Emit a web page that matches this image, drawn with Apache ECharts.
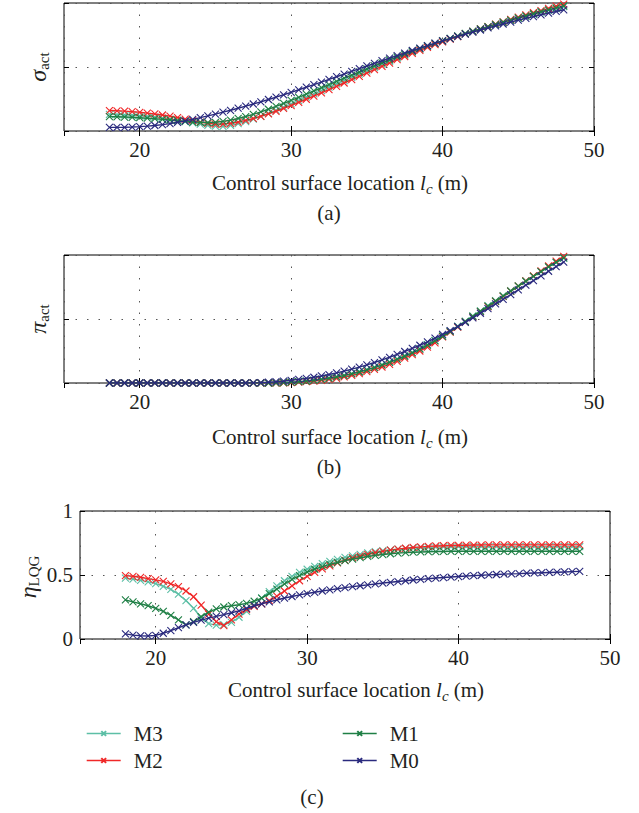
<!DOCTYPE html>
<html><head><meta charset="utf-8">
<script src="https://cdn.jsdelivr.net/npm/echarts@6/dist/echarts.min.js"></script>
<style>html,body{margin:0;padding:0;background:#fff}#c{width:639px;height:813px}</style>
</head><body><div id="c"></div>
<script>
// ---------- data ----------
const xValues = [18,18.5,19,19.5,20,20.5,21,21.5,22,22.5,23,23.5,24,24.5,25,25.5,26,26.5,27,27.5,28,28.5,29,29.5,30,30.5,31,31.5,32,32.5,33,33.5,34,34.5,35,35.5,36,36.5,37,37.5,38,38.5,39,39.5,40,40.5,41,41.5,42,42.5,43,43.5,44,44.5,45,45.5,46,46.5,47,47.5,48];
const seriesNames = ['M3','M2','M1','M0'];
const xTickLabels = [20,30,40,50];
const etaTickLabels = [0,0.5,1];

// (a) sigma_act
const sigmaM3 = [.130,.128,.126,.123,.119,.114,.108,.101,.093,.084,.074,.064,.054,.045,.038,.036,.045,.058,.074,.093,.114,.137,.161,.186,.212,.238,.264,.290,.316,.342,.368,.394,.420,.445,.470,.495,.520,.545,.569,.593,.616,.638,.660,.681,.701,.721,.740,.759,.777,.795,.813,.830,.847,.864,.880,.896,.912,.927,.942,.957,.972];
const sigmaM2 = [.160,.158,.155,.151,.146,.140,.133,.125,.116,.105,.093,.081,.070,.060,.054,.054,.060,.070,.083,.098,.115,.134,.154,.176,.199,.223,.248,.273,.298,.323,.349,.375,.401,.427,.453,.479,.505,.531,.557,.582,.607,.630,.653,.675,.697,.718,.738,.758,.778,.797,.816,.835,.853,.871,.889,.907,.924,.941,.958,.975,.992];
const sigmaM1 = [.112,.111,.109,.107,.104,.100,.096,.091,.086,.080,.075,.070,.067,.066,.068,.075,.085,.098,.113,.130,.149,.170,.192,.215,.239,.263,.288,.313,.338,.363,.388,.413,.437,.461,.485,.509,.533,.556,.579,.601,.623,.644,.665,.685,.705,.724,.743,.762,.780,.798,.816,.833,.850,.867,.884,.900,.916,.932,.947,.962,.977];
const sigmaM0 = [.028,.028,.029,.031,.034,.038,.043,.050,.058,.068,.079,.091,.104,.118,.132,.147,.162,.178,.194,.211,.228,.246,.264,.283,.302,.322,.342,.362,.382,.403,.424,.445,.466,.487,.508,.528,.549,.569,.589,.609,.629,.648,.667,.686,.704,.722,.739,.756,.773,.789,.805,.821,.836,.851,.866,.880,.894,.908,.921,.934,.947];

// (b) pi_act
const piM3 = [0,0,0,0,0,0,0,0,0,0,0,0,0,0,0,0,0,0,0,0,0,0,.001,.003,.006,.010,.016,.022,.030,.039,.049,.061,.074,.089,.105,.123,.143,.165,.188,.213,.240,.269,.300,.333,.368,.405,.444,.484,.524,.564,.604,.643,.682,.721,.759,.797,.834,.871,.907,.942,.976];
const piM2 = [0,0,0,0,0,0,0,0,0,0,0,0,0,0,0,0,0,0,0,0,0,0,0,.001,.003,.006,.010,.015,.021,.028,.037,.047,.059,.073,.089,.106,.125,.146,.169,.194,.221,.250,.281,.314,.360,.398,.437,.477,.517,.557,.597,.637,.677,.717,.757,.797,.836,.875,.914,.952,.990];
const piM1 = [0,0,0,0,0,0,0,0,0,0,0,0,0,0,0,0,0,0,0,0,0,0,.001,.003,.006,.010,.015,.021,.028,.037,.047,.058,.071,.086,.102,.120,.140,.161,.184,.209,.236,.265,.296,.329,.364,.401,.440,.480,.520,.560,.600,.640,.679,.718,.757,.795,.833,.870,.907,.943,.978];
const piM0 = [0,0,0,0,0,0,0,0,0,0,0,0,0,0,0,0,0,0,0,.001,.003,.006,.010,.015,.021,.028,.036,.045,.055,.066,.079,.093,.108,.124,.141,.160,.180,.201,.223,.246,.270,.295,.322,.350,.380,.410,.440,.473,.508,.545,.581,.618,.654,.691,.727,.764,.800,.837,.873,.909,.945];

// (c) eta_LQG
const etaM3 = [.475,.468,.458,.446,.433,.412,.388,.350,.300,.240,.165,.120,.108,.112,.130,.170,.215,.265,.320,.370,.415,.455,.490,.520,.545,.568,.588,.606,.622,.637,.650,.662,.673,.682,.690,.697,.702,.707,.711,.714,.716,.718,.719,.720,.721,.721,.722,.722,.722,.722,.722,.722,.722,.722,.722,.722,.722,.722,.722,.722,.722];
const etaM2 = [.495,.490,.482,.472,.462,.450,.430,.410,.375,.330,.265,.195,.135,.105,.150,.195,.230,.255,.275,.300,.335,.375,.415,.455,.490,.520,.548,.572,.595,.615,.633,.648,.662,.674,.685,.694,.702,.709,.715,.720,.724,.727,.729,.731,.732,.733,.734,.734,.735,.735,.735,.735,.735,.735,.735,.735,.735,.735,.735,.735,.735];
const etaM1 = [.305,.290,.275,.260,.240,.215,.185,.150,.110,.135,.175,.210,.235,.250,.260,.268,.278,.295,.320,.355,.390,.430,.465,.495,.522,.545,.565,.583,.598,.612,.624,.635,.645,.653,.660,.666,.671,.675,.678,.680,.682,.683,.684,.685,.685,.685,.685,.685,.685,.685,.685,.685,.685,.685,.685,.685,.685,.685,.685,.685,.685];
const etaM0 = [.040,.030,.025,.024,.028,.045,.065,.088,.110,.130,.148,.163,.177,.190,.205,.220,.240,.260,.275,.290,.305,.320,.332,.345,.355,.365,.375,.384,.393,.401,.409,.416,.423,.430,.437,.443,.449,.455,.461,.466,.471,.476,.480,.484,.488,.492,.495,.498,.501,.504,.507,.509,.511,.514,.516,.518,.520,.522,.524,.526,.528];

// ---------- style ----------
const colors = {M3:'#5dbfa6', M2:'#f02828', M1:'#1f7f45', M0:'#2a2a7e'};
const FONT = 'Liberation Serif';
const TXT = '#231f20';
const panels = [
  {left:64, top:3, width:530, height:128, data:[sigmaM3,sigmaM2,sigmaM1,sigmaM0], showY:false},
  {left:64, top:255, width:530, height:128, data:[piM3,piM2,piM1,piM0], showY:false},
  {left:80, top:511, width:530, height:128, data:[etaM3,etaM2,etaM1,etaM0], showY:true}
];
const splitStyle = {show:true, lineStyle:{color:'#555', width:1, type:[1.5,10]}};
const xMark = 'path://M0,0L10,10M0,10L10,0';

const grid=[], xAxis=[], yAxis=[], series=[];
panels.forEach((p,i)=>{
  grid.push({left:p.left, top:p.top, width:p.width, height:p.height, show:true, borderColor:'#000', borderWidth:1, backgroundColor:'transparent'});
  xAxis.push({gridIndex:i, type:'value', min:15, max:50, splitNumber:4, position:'bottom',
    axisLine:{show:false}, axisTick:{show:true, inside:true, length:5, lineStyle:{color:'#000'}},
    axisLabel:{show:true, showMinLabel:false, margin:8, fontFamily:FONT, fontSize:21, color:TXT,
      formatter:v=> xTickLabels.indexOf(v)>=0 ? String(v) : ''},
    splitLine:splitStyle});
  xAxis.push({gridIndex:i, type:'value', min:15, max:50, splitNumber:4, position:'top',
    axisLine:{show:false}, axisTick:{show:true, inside:true, length:5, lineStyle:{color:'#000'}},
    axisLabel:{show:false}, splitLine:{show:false}});
  yAxis.push({gridIndex:i, type:'value', min:0, max:1, interval:0.5, position:'left',
    axisLine:{show:false}, axisTick:{show:true, inside:true, length:5, lineStyle:{color:'#000'}},
    axisLabel:{show:p.showY, margin:7, fontFamily:FONT, fontSize:21, color:TXT,
      formatter:v=> etaTickLabels.indexOf(v)>=0 ? String(v) : ''},
    splitLine:splitStyle});
  yAxis.push({gridIndex:i, type:'value', min:0, max:1, interval:0.5, position:'right',
    axisLine:{show:false}, axisTick:{show:true, inside:true, length:5, lineStyle:{color:'#000'}},
    axisLabel:{show:false}, splitLine:{show:false}});
  p.data.forEach((arr,k)=>{
    const name = seriesNames[k], c = colors[name];
    series.push({name, type:'line', xAxisIndex:2*i, yAxisIndex:2*i,
      data: xValues.map((x,j)=>[x, arr[j]]),
      symbol:xMark, symbolSize:7, showAllSymbol:true, animation:false,
      lineStyle:{color:c, width:1.4},
      itemStyle:{color:c, borderColor:c, borderWidth:1.1},
      emphasis:{disabled:true}, z: 2+k});
  });
});

const richX = {
  n:{fontFamily:FONT, fontSize:21, color:TXT},
  i:{fontFamily:FONT, fontSize:21, fontStyle:'italic', color:TXT},
  s:{fontFamily:FONT, fontSize:15, fontStyle:'italic', color:TXT, padding:[12,0,0,0]}
};
const xName = '{n|Control surface location }{i|l}{s|c}{n| (m)}';
const richY = {
  g:{fontFamily:FONT, fontSize:24, fontStyle:'italic', color:TXT},
  s:{fontFamily:FONT, fontSize:15, color:TXT, padding:[12,0,0,0]}
};
function txt(x,y,text,rich,rot){
  return {type:'text', x, y, rotation:rot||0, silent:true,
    style:{text, rich, align:'center', verticalAlign:'middle', textAlign:'center', textVerticalAlign:'middle',
      fontFamily:FONT, fontSize:21, fill:TXT}};
}
const graphic = [
  txt(340,183,xName,richX),
  txt(340,437,xName,richX),
  txt(356,690,xName,richX),
  txt(329,213,'(a)',richX),
  txt(329,467,'(b)',richX),
  txt(312,797,'(c)',richX),
  txt(38,67,'{g|σ}{s|act}',richY,Math.PI/2),
  txt(38,319,'{g|π}{s|act}',richY,Math.PI/2),
  txt(28,577,'{g|η}{s|LQG}',richY,Math.PI/2)
];

const legendText = {fontFamily:FONT, fontSize:21, color:TXT, padding:[0,0,0,8]};
const legendLine = {width:1.4};
const legend = [
  {data:['M3','M2'], left:81, top:718, orient:'vertical', itemWidth:34, itemHeight:6, itemGap:6, textStyle:legendText, lineStyle:legendLine, selectedMode:false},
  {data:['M1','M0'], left:337, top:718, orient:'vertical', itemWidth:34, itemHeight:6, itemGap:6, textStyle:legendText, lineStyle:legendLine, selectedMode:false}
];

const chart = echarts.init(document.getElementById('c'), null, {renderer:'svg'});
chart.setOption({animation:false, backgroundColor:'#fff', grid, xAxis, yAxis, series, graphic, legend});
</script></body></html>
